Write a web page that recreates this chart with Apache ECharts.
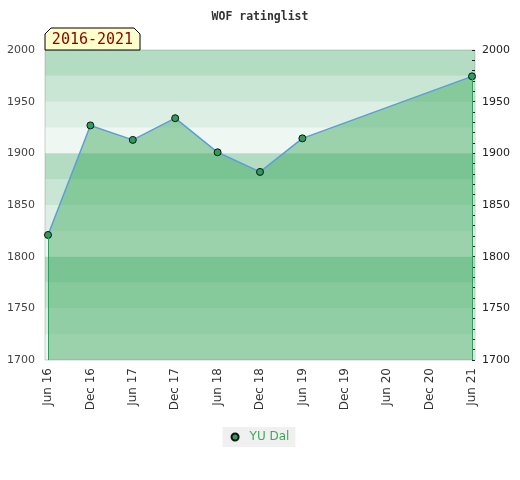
<!DOCTYPE html>
<html>
<head>
<meta charset="utf-8">
<script src="https://cdn.jsdelivr.net/npm/echarts@6/dist/echarts.min.js"></script>
<style>
  html, body { margin: 0; padding: 0; background: #fff; }
  #chart { width: 520px; height: 480px; }
</style>
</head>
<body>
<div id="chart"></div>
<script>
// half-year steps on the x axis
const periods = ['Jun 16', 'Dec 16', 'Jun 17', 'Dec 17', 'Jun 18', 'Dec 18',
                 'Jun 19', 'Dec 19', 'Jun 20', 'Dec 20', 'Jun 21'];
// rating per period (no list published -> null)
const ratings = [1821, 1927, 1913, 1934, 1901, 1882, 1914.5, null, null, null, 1974.5];
const playerName = 'YU Dal';
const chartTitle = 'WOF ratinglist';
const yearRange = '2016-2021';
const ratingMin = 1700;
const ratingMax = 2000;

const chart = echarts.init(document.getElementById('chart'));

// green bands, repeating every 100 points (lightest at the bottom of each hundred)
const bandColors = [
  'rgba(65,168,105,0.085)',
  'rgba(65,168,105,0.18)',
  'rgba(65,168,105,0.29)',
  'rgba(65,168,105,0.40)'
];

const firstIdx = 0;
const lastIdx = ratings.length - 1;

const option = {
  animation: false,
  title: {
    text: chartTitle,
    left: 'center',
    top: 6,
    textStyle: {
      fontFamily: 'DejaVu Sans Mono',
      fontWeight: 'bold',
      fontSize: 11.5,
      color: '#333'
    }
  },
  legend: {
    data: [playerName],
    left: 'center',
    top: 427,
    backgroundColor: '#f0f0f0',
    padding: [4, 6, 4, 8],
    icon: 'circle',
    itemWidth: 7,
    itemHeight: 7,
    itemGap: 6,
    textStyle: { color: '#3aaa5a', fontSize: 12, fontFamily: 'DejaVu Sans', padding: [0, 0, 0, 6] }
  },
  grid: [
    // outer plot frame with the bands
    { left: 45, right: 45, top: 50, bottom: 120, show: true,
      borderColor: '#d0d0d0', borderWidth: 1, backgroundColor: 'transparent' },
    // data area, slightly inset
    { left: 48, right: 48, top: 50, bottom: 120 }
  ],
  xAxis: [
    { gridIndex: 0, type: 'value', show: false, min: 0, max: 1 },
    {
      gridIndex: 1,
      type: 'category',
      data: periods,
      boundaryGap: false,
      axisLine: { show: false },
      axisTick: { show: false },
      axisLabel: {
        rotate: 90,
        interval: 0,
        margin: 8,
        fontSize: 12,
        color: '#333',
        fontFamily: 'DejaVu Sans'
      }
    }
  ],
  yAxis: [
    {
      gridIndex: 0,
      type: 'value',
      position: 'left',
      min: ratingMin,
      max: ratingMax,
      interval: 25,
      axisLine: { show: false },
      axisTick: { show: false },
      splitLine: { show: false },
      splitArea: { show: true, areaStyle: { color: bandColors } },
      axisLabel: {
        margin: 10,
        fontSize: 11,
        color: '#444',
        fontFamily: 'DejaVu Sans',
        formatter: v => (v % 50 === 0 ? String(v) : '')
      }
    },
    {
      gridIndex: 0,
      type: 'value',
      position: 'right',
      min: ratingMin,
      max: ratingMax,
      interval: 50,
      axisLine: { show: false },
      axisTick: { show: true, inside: true, length: 3, lineStyle: { color: '#222' } },
      minorTick: { show: true, splitNumber: 5, length: 3, lineStyle: { color: '#222' } },
      splitLine: { show: false },
      axisLabel: {
        margin: 7,
        fontSize: 11,
        color: '#222',
        fontFamily: 'DejaVu Sans',
        formatter: v => String(v)
      }
    },
    {
      gridIndex: 1,
      type: 'value',
      show: false,
      min: ratingMin,
      max: ratingMax
    }
  ],
  series: [
    {
      name: playerName,
      type: 'line',
      xAxisIndex: 1,
      yAxisIndex: 2,
      data: ratings,
      connectNulls: true,
      symbol: 'circle',
      symbolSize: 7,
      itemStyle: { color: '#2e9d5b', borderColor: '#111', borderWidth: 1 },
      lineStyle: { color: '#5b9fd6', width: 1.5 },
      areaStyle: { color: 'rgb(60,167,93)', opacity: 0.47, origin: 'start' },
      markLine: {
        silent: true,
        symbol: 'none',
        label: { show: false },
        lineStyle: { color: '#2e9d5b', width: 1, type: 'solid' },
        data: [
          [{ coord: [periods[firstIdx], ratingMin] }, { coord: [periods[firstIdx], ratings[firstIdx]] }],
          [{ coord: [periods[lastIdx], ratingMin] }, { coord: [periods[lastIdx], ratings[lastIdx]] }]
        ]
      },
      z: 3
    }
  ],
  graphic: [
    {
      type: 'polygon',
      z: 100,
      shape: { points: [[45, 50], [45, 34], [51, 28], [134, 28], [140, 34], [140, 50]] },
      style: { fill: '#ffffcc', stroke: '#000', lineWidth: 1 }
    },
    {
      type: 'text',
      z: 101,
      x: 92.5,
      y: 40,
      style: {
        text: yearRange,
        font: '15px "DejaVu Sans Mono"',
        fill: '#8b0000',
        align: 'center',
        verticalAlign: 'middle'
      }
    }
  ]
};

chart.setOption(option);
</script>
</body>
</html>
